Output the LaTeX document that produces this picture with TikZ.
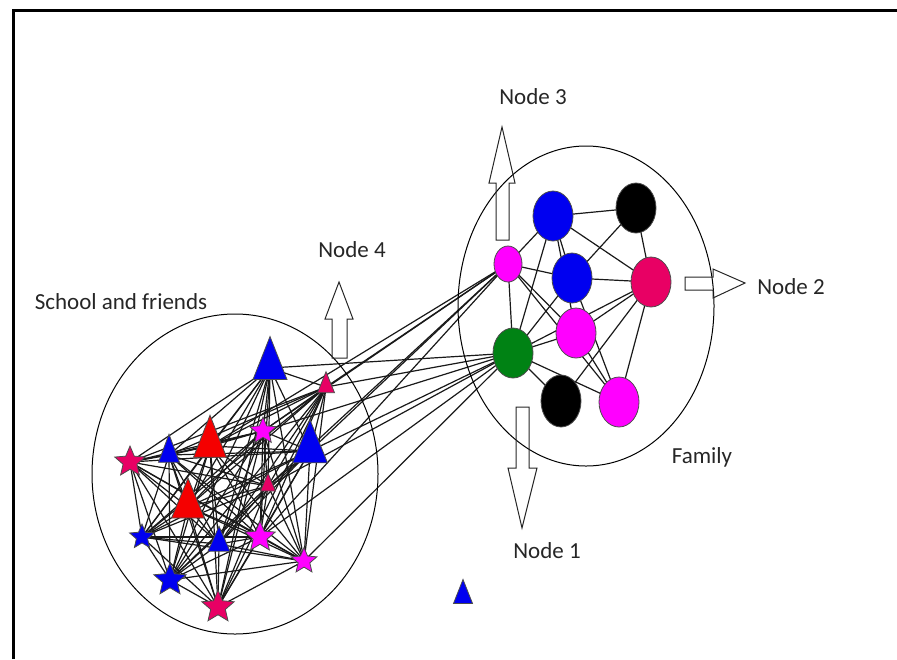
\documentclass[tikz,border=0pt]{standalone}
\usepackage{fontspec}
\setmainfont{Carlito}
\usetikzlibrary{shapes.geometric,backgrounds}
\definecolor{myBlue}{RGB}{0, 0, 240}
\definecolor{myRed}{RGB}{245, 0, 0}
\definecolor{myCrimson}{RGB}{232, 0, 100}
\definecolor{myMagenta}{RGB}{255, 0, 255}
\definecolor{myGreen}{RGB}{0, 130, 20}
\tikzset{%%
  link/.style={line width=0.6pt, black!90},
  fam/.style={ellipse, draw=black!70, line width=0.4pt, minimum width=20pt, minimum height=25pt, inner sep=0pt},
  tri/.style={isosceles triangle, isosceles triangle stretches, shape border rotate=90, draw=black!70, line width=0.4pt, inner sep=0pt},
  starnode/.style={star, star points=5, star point ratio=2.2, draw=black!70, line width=0.4pt, inner sep=0pt},
  group/.style={ellipse, draw=black, line width=0.5pt, inner sep=0pt},
  blockarrow/.style={draw=black!85, line width=0.5pt},
  lbl/.style={font=\fontsize{11.5}{13}\selectfont, text=black!85}
  }

\begin{document}
\begin{tikzpicture}[x=0.5pt, y=-0.5pt]
  \useasboundingbox (0,0) rectangle (897,659);
  \draw[line width=1.5pt] (13,659) -- (13,10) -- (897,10);

  % the two groups
  \node[group, minimum width=143pt, minimum height=160pt] (school) at (235,474) {};
  \node[group, minimum width=128pt, minimum height=160pt] (family) at (586,306) {};

  % family
  \node[fam, fill=myMagenta, minimum width=14pt, minimum height=18pt] (fp) at (508,264) {};
  \node[fam, fill=myBlue] (fb1) at (553,216) {};
  \node[fam, fill=black] (fk1) at (636,208) {};
  \node[fam, fill=myBlue] (fb2) at (572,278) {};
  \node[fam, fill=myCrimson] (fr) at (651,282) {};
  \node[fam, fill=myMagenta] (fm2) at (576,333) {};
  \node[fam, fill=myGreen] (fg) at (513,353) {};
  \node[fam, fill=black, minimum height=26pt] (fk2) at (561,401) {};
  \node[fam, fill=myMagenta] (fm3) at (619,402) {};

  % school and friends
  \node[tri, fill=myBlue, minimum width=17pt, minimum height=21.5pt] (t1) at (270,368) {};
  \node[tri, fill=myCrimson, minimum width=8.5pt, minimum height=10.5pt] (t2) at (326,387) {};
  \node[tri, fill=myBlue, minimum width=17.5pt, minimum height=21.5pt] (t3) at (310,451) {};
  \node[tri, fill=myRed, minimum width=16.5pt, minimum height=21pt] (t4) at (210,446) {};
  \node[tri, fill=myBlue, minimum width=10.5pt, minimum height=14pt] (t5) at (169,455) {};
  \node[tri, fill=myRed, minimum width=16.5pt, minimum height=20pt] (t6) at (188,507) {};
  \node[tri, fill=myCrimson, minimum width=7.5pt, minimum height=9pt] (t7) at (268,486) {};
  \node[tri, fill=myBlue, minimum width=11pt, minimum height=12.5pt] (t8) at (219,544) {};
  \node[starnode, fill=myCrimson, minimum size=16pt] (s1) at (130,462) {};
  \node[starnode, fill=myMagenta, minimum size=14pt] (s2) at (263,431) {};
  \node[starnode, fill=myBlue, minimum size=13pt] (s3) at (142,537) {};
  \node[starnode, fill=myMagenta, minimum size=16pt] (s4) at (260,537) {};
  \node[starnode, fill=myMagenta, minimum size=13.5pt] (s5) at (304,561) {};
  \node[starnode, fill=myBlue, minimum size=17pt] (s6) at (170,580) {};
  \node[starnode, fill=myCrimson, minimum size=17pt] (s7) at (218,607) {};
  \node[tri, fill=myBlue, minimum width=9.5pt, minimum height=12pt] (t9) at (463,597) {};

  \begin{pgfonlayer}{background}
    \foreach \a [count=\i] in {t1,t2,t3,t4,t5,t6,t7,t8,s1,s2,s3,s4,s5,s6,s7}
      \foreach \b [count=\j] in {t1,t2,t3,t4,t5,t6,t7,t8,s1,s2,s3,s4,s5,s6,s7}
        {\ifnum\j>\i \draw[link] (\a.center) -- (\b.center); \fi}
    \foreach \a/\b in {fb1/fk1, fb1/fp, fb1/fg, fb1/fb2, fb1/fm2, fb1/fr, fk1/fr, fk1/fb2,
        fp/fb2, fp/fg, fp/fm2, fp/fm3, fb2/fr, fb2/fm3, fb2/fg, fr/fm2, fr/fg, fr/fm3,
        fr/fk2, fm2/fg, fm2/fm3, fg/fk2, fg/fm3}
      \draw[link] (\a.center) -- (\b.center);
    \foreach \b in {t2,t3,t4,s2,t7,s4}
      \draw[link] (fp.center) -- (\b.center);
    \foreach \b in {t1,t2,t3,s2,t7,s4,s5}
      \draw[link] (fg.center) -- (\b.center);
  \end{pgfonlayer}

  % arrows to the labels
  \draw[blockarrow] (496,240) -- (496,183) -- (489,183) -- (502,127) -- (515,183) -- (509,183) -- (509,240) -- cycle;
  \draw[blockarrow] (332,358) -- (332,319) -- (325,319) -- (339,282) -- (353,319) -- (347,319) -- (347,358) -- cycle;
  \draw[blockarrow] (685,277) -- (713,277) -- (713,269) -- (745,283) -- (713,298) -- (713,290) -- (685,290) -- cycle;
  \draw[blockarrow] (516,407) -- (516,468) -- (508,468) -- (522,528) -- (537,468) -- (529,468) -- (529,407) -- cycle;

  \node[lbl] (node3) at (533,97) {Node 3};
  \node[lbl] (node4) at (352,250) {Node 4};
  \node[lbl] (node2) at (791,287) {Node 2};
  \node[lbl] (node1) at (547,551) {Node 1};
  \node[lbl] (famlbl) at (702,457) {Family};
  \node[lbl] (schoollbl) at (121,302) {School and friends};
\end{tikzpicture}
\end{document}
